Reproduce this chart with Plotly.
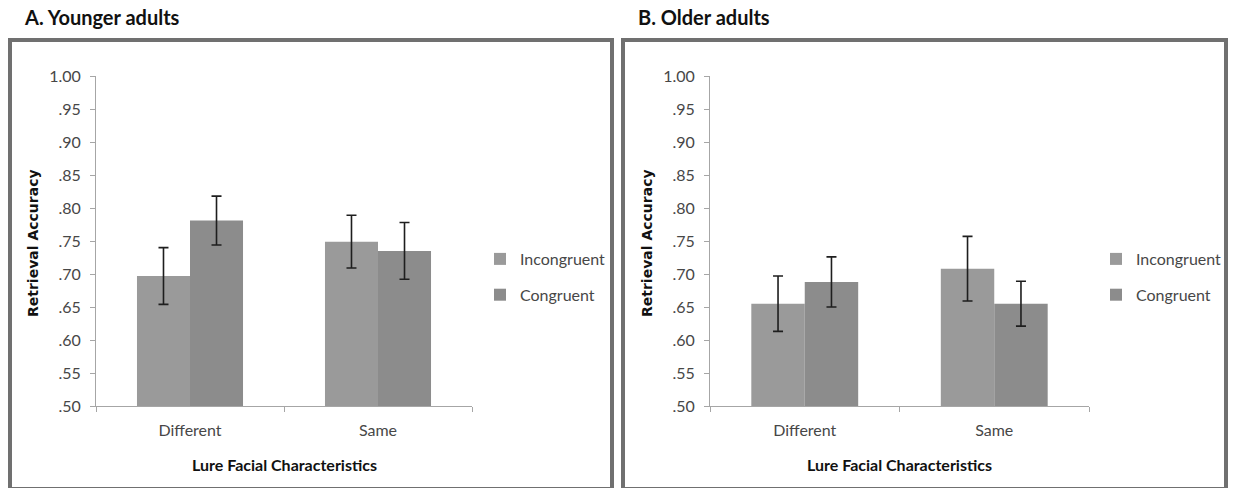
import plotly.graph_objects as go

# Retrieval accuracy by lure facial characteristics and congruency
categories = ["Different", "Same"]
series_names = ["Incongruent", "Congruent"]

young_incongruent = [0.697, 0.749]
young_congruent = [0.781, 0.735]
young_incongruent_err = [0.043, 0.040]
young_congruent_err = [0.037, 0.043]

old_incongruent = [0.655, 0.708]
old_congruent = [0.688, 0.655]
old_incongruent_err = [0.042, 0.049]
old_congruent_err = [0.038, 0.034]

panel_titles = ["A. Younger adults", "B. Older adults"]
y_tickvals = [0.50, 0.55, 0.60, 0.65, 0.70, 0.75, 0.80, 0.85, 0.90, 0.95, 1.00]
y_ticktext = [".50", ".55", ".60", ".65", ".70", ".75", ".80", ".85", ".90", ".95", "1.00"]
y_title = "Retrieval Accuracy"
x_title = "Lure Facial Characteristics"

W, H = 1235, 488
FONT = "Lato"
bar_colors = ["#9a9a9a", "#8c8c8c"]
err_color = "#1e1e1e"
axis_color = "#a6a6a6"
text_color = "#474747"

fig = go.Figure()

panels = [
    dict(vals=[young_incongruent, young_congruent],
         errs=[young_incongruent_err, young_congruent_err],
         xa="x", ya="y", legend="legend"),
    dict(vals=[old_incongruent, old_congruent],
         errs=[old_incongruent_err, old_congruent_err],
         xa="x2", ya="y2", legend="legend2"),
]

for p in panels:
    for i, name in enumerate(series_names):
        fig.add_trace(go.Bar(
            x=categories, y=p["vals"][i], name=name,
            marker=dict(color=bar_colors[i], line=dict(width=0)),
            error_y=dict(type="data", array=p["errs"][i], color=err_color,
                         thickness=1.6, width=5),
            xaxis=p["xa"], yaxis=p["ya"], legend=p["legend"],
            legendgroup=p["legend"] + name, offsetgroup=str(i),
        ))

# plot-area geometry in pixels
plot_top, plot_bottom = 76, 406
x_ranges_px = [(96, 472), (710, 1089)]
ydom = [1 - plot_bottom / H, 1 - plot_top / H]

common_x = dict(
    type="category", showline=True, linecolor=axis_color, linewidth=1,
    ticks="outside", tickson="boundaries", ticklen=5, tickcolor=axis_color,
    tickfont=dict(family=FONT, size=16, color=text_color),
    ticklabelstandoff=10, showgrid=False, zeroline=False, fixedrange=True,
    automargin=False,
)
common_y = dict(
    range=[0.5, 1.0], tickvals=y_tickvals, ticktext=y_ticktext,
    showline=True, linecolor=axis_color, linewidth=1,
    ticks="outside", ticklen=5, tickcolor=axis_color,
    tickfont=dict(family=FONT, size=16, color=text_color),
    ticklabelstandoff=6, showgrid=False, zeroline=False, fixedrange=True,
    automargin=False,
)

layout_axes = {}
for k, (x0, x1) in enumerate(x_ranges_px):
    sfx = "" if k == 0 else str(k + 1)
    layout_axes["xaxis" + sfx] = dict(common_x, domain=[x0 / W, x1 / W],
                                      anchor="y" + sfx)
    layout_axes["yaxis" + sfx] = dict(common_y, domain=ydom,
                                      anchor="x" + sfx)

legend_style = dict(
    font=dict(family=FONT, size=16, color=text_color),
    bgcolor="rgba(0,0,0,0)", traceorder="grouped", tracegroupgap=12,
    itemsizing="constant", xanchor="left", yanchor="middle",
    y=1 - 277 / H, itemwidth=30,
)

fig.update_layout(
    width=W, height=H, margin=dict(l=0, r=0, t=0, b=0, pad=0),
    paper_bgcolor="white", plot_bgcolor="white",
    barmode="group", bargap=0.436, bargroupgap=0,
    showlegend=True,
    legend=dict(legend_style, x=480 / W),
    legend2=dict(legend_style, x=1096 / W),
    **layout_axes,
)

# panel frames (bottom edge runs along the lower border of the figure)
frames_px = [(10, 612), (623, 1226)]
for (x0, x1) in frames_px:
    fig.add_shape(type="rect", xref="paper", yref="paper",
                  x0=x0 / W, x1=x1 / W, y0=1 - 489 / H, y1=1 - 40 / H,
                  line=dict(color="#707070", width=4), fillcolor="rgba(0,0,0,0)",
                  layer="below")

annotations = []
title_x_px = [22, 636]
for k, (x0, x1) in enumerate(x_ranges_px):
    annotations.append(dict(
        text="<b>%s</b>" % panel_titles[k], xref="paper", yref="paper",
        x=title_x_px[k] / W, y=1 - 17 / H, xanchor="left", yanchor="middle",
        showarrow=False, font=dict(family=FONT, size=20, color="#111111")))
    annotations.append(dict(
        text="<b>%s</b>" % x_title, xref="paper", yref="paper",
        x=(x0 + x1) / 2 / W, y=1 - 464 / H, xanchor="center", yanchor="middle",
        showarrow=False, font=dict(family=FONT, size=16, color="#111111")))
    annotations.append(dict(
        text="<b>%s</b>" % y_title, xref="paper", yref="paper",
        x=(x0 - 63) / W, y=1 - 243 / H, xanchor="center", yanchor="middle",
        textangle=-90, showarrow=False,
        font=dict(family="DejaVu Sans", size=14, color="#111111")))
fig.update_layout(annotations=annotations)

fig.write_html("out.html")
